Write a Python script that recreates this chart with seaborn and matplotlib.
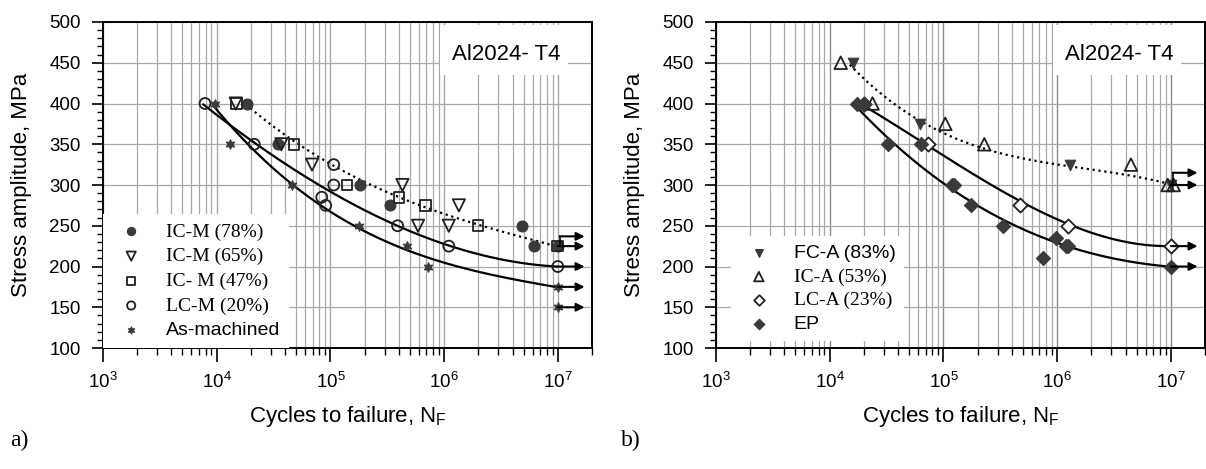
import numpy as np
import matplotlib
matplotlib.use("Agg")
import matplotlib.pyplot as plt
from matplotlib.patches import Rectangle
from matplotlib.ticker import LogLocator, MultipleLocator, NullFormatter
import seaborn as sns

# --- style ---
sns.set_theme(style="ticks")
plt.rcParams["font.family"] = ["Liberation Sans", "DejaVu Sans"]
plt.rcParams["mathtext.fontset"] = "custom"
plt.rcParams["mathtext.rm"] = "Liberation Sans"
plt.rcParams["mathtext.it"] = "Liberation Sans:italic"
plt.rcParams["mathtext.bf"] = "Liberation Sans:bold"
plt.rcParams["text.color"] = "black"
plt.rcParams["axes.labelcolor"] = "black"
plt.rcParams["xtick.color"] = "black"
plt.rcParams["ytick.color"] = "black"

SERIF = "Liberation Serif"
SANS = "Liberation Sans"
DARK = "#3a3a3a"
EDGE = "#202020"
GRID = "#a8a8a8"

# --- panel a) : machined specimens ---
icm78_N = [1.85e4, 3.45e4, 1.82e5, 3.34e5, 4.83e6, 6.15e6, 1e7]
icm78_S = [400, 350, 300, 275, 250, 225, 225]
icm65_N = [1.47e4, 3.7e4, 6.9e4, 4.3e5, 5.9e5, 1.1e6, 1.35e6]
icm65_S = [400, 350, 325, 300, 250, 250, 275]
icm47_N = [1.5e4, 4.8e4, 1.4e5, 4.0e5, 6.9e5, 1.98e6, 1e7]
icm47_S = [400, 350, 300, 285, 275, 250, 225]
lcm20_N = [7.9e3, 2.14e4, 1.07e5, 1.07e5, 8.4e4, 9.1e4, 3.9e5, 1.1e6, 1e7]
lcm20_S = [400, 350, 325, 300, 285, 275, 250, 225, 200]
asm_N = [9.6e3, 1.3e4, 4.6e4, 1.78e5, 4.7e5, 7.2e5, 1e7, 1e7]
asm_S = [400, 350, 300, 250, 225, 200, 175, 150]

# points read off the trend curves of panel a)
a_dot_N = [1.8e4, 4.9e4, 1.07e5, 2.7e5, 7e5, 2.06e6, 1e7]
a_dot_S = [400, 350, 325, 295, 275, 248, 225]
a_up_N = [7.6e3, 2.1e4, 5.97e4, 1.16e5, 3.92e5, 1.12e6, 1e7]
a_up_S = [400, 350, 312, 288, 249, 225, 200]
a_low_N = [9.3e3, 1.54e4, 3.06e4, 5.97e4, 1.75e5, 4.52e5, 1.24e6, 1e7]
a_low_S = [400, 361, 318, 291, 249, 223, 198, 175]

a_runout_bent = [225]
a_runout = [225, 200, 175, 150]

# --- panel b) : as-received / EP specimens ---
fca_N = [1.59e4, 6.28e4, 1.3e6, 1e7]
fca_S = [450, 375, 325, 300]
ica_N = [1.25e4, 2.38e4, 1.04e5, 2.29e5, 4.46e6, 9.4e6, 1.06e7]
ica_S = [450, 400, 375, 350, 325, 300, 300]
lca_N = [2.0e4, 7.25e4, 4.73e5, 1.25e6, 1e7]
lca_S = [400, 350, 275, 250, 225]
ep_N = [1.73e4, 2.0e4, 3.23e4, 6.4e4, 1.2e5, 1.25e5, 1.76e5, 3.36e5, 7.5e5, 9.8e5, 1.2e6, 1.26e6, 1e7]
ep_S = [400, 400, 350, 350, 300, 300, 275, 250, 210, 235, 225, 225, 200]

b_dot_N = [1.5e4, 6.28e4, 2.1e5, 1.3e6, 1e7]
b_dot_S = [448, 377, 348, 322, 301]
b_up_N = [1.95e4, 6.28e4, 2.07e5, 4.65e5, 1.25e6, 1e7]
b_up_S = [398, 354, 310, 279, 253, 225]
b_low_N = [1.73e4, 3.2e4, 1.2e5, 2.07e5, 4.65e5, 1.25e6, 1e7]
b_low_S = [400, 350, 300, 275, 245, 224, 200]

b_runout_bent = [300]
b_runout = [300, 225, 200]


def trend(N, S, deg=3):
    # smooth trend through the points
    x = np.log10(N)
    c = np.polyfit(x, S, deg)
    xx = np.linspace(x[0], x[-1], 200)
    return 10 ** xx, np.polyval(c, xx)


def draw_curve(ax, N, S, ls):
    xx, yy = trend(N, S)
    sns.lineplot(x=xx, y=yy, ax=ax, color="black", lw=1.6, ls=ls, sort=False, zorder=2)


def draw_runouts(ax, bent, straight, rise):
    arrow = dict(arrowstyle="-|>", color="black", lw=1.5, mutation_scale=12,
                 shrinkA=0, shrinkB=0)
    for v in straight:
        ax.annotate("", xy=(1.72e7, v), xytext=(1e7, v), arrowprops=arrow, zorder=4)
    for v in bent:
        ax.plot([1.04e7, 1.04e7], [v, v + rise], color="black", lw=1.2, zorder=4)
        ax.annotate("", xy=(1.72e7, v + rise), xytext=(1.04e7, v + rise),
                    arrowprops=arrow, zorder=4)


def pts(ax, N, S, marker, label, filled, s=55, face=None):
    fc = DARK if filled else (face or "none")
    sns.scatterplot(x=N, y=S, ax=ax, marker=marker, s=s, color=DARK,
                    facecolor=fc, edgecolor=DARK if filled else EDGE,
                    linewidth=0.8 if filled else 1.3, label=label, zorder=3)


def style_axis(ax, major_grid=GRID):
    ax.set_xscale("log")
    ax.set_xlim(1e3, 2e7)
    ax.set_ylim(100, 500)
    ax.xaxis.set_major_locator(LogLocator(base=10, numticks=10))
    ax.xaxis.set_minor_locator(LogLocator(base=10, subs=np.arange(2, 10), numticks=30))
    ax.xaxis.set_minor_formatter(NullFormatter())
    ax.yaxis.set_major_locator(MultipleLocator(50))
    ax.yaxis.set_minor_locator(MultipleLocator(10))
    ax.set_axisbelow(True)
    ax.grid(which="major", axis="y", color=GRID, lw=0.9)
    ax.grid(which="major", axis="x", color=major_grid, lw=1.0)
    ax.grid(which="minor", axis="x", color=GRID, lw=0.9)
    for sp in ax.spines.values():
        sp.set_visible(True)
        sp.set_color("black")
        sp.set_linewidth(1.4)
    ax.tick_params(axis="y", which="major", direction="out", length=8, width=1.2,
                   pad=8, labelsize=13.5, left=True, right=False)
    ax.tick_params(axis="y", which="minor", direction="out", length=4, width=1.0,
                   left=True, right=False)
    ax.tick_params(axis="x", which="major", direction="out", length=10, width=1.2,
                   pad=7, labelsize=13.5, bottom=True, top=False)
    ax.tick_params(axis="x", which="minor", direction="out", length=5, width=1.0,
                   bottom=True, top=False)
    ax.set_ylabel("Stress amplitude, MPa", fontsize=16)
    ax.yaxis.set_label_coords(-0.145, 0.5)
    ax.set_xlabel(r"Cycles to failure, N$_{\mathrm{F}}$", fontsize=16)
    ax.xaxis.set_label_coords(0.5, -0.172)
    ax.add_patch(Rectangle((0.69, 0.837), 0.26, 0.153, transform=ax.transAxes,
                           facecolor="white", edgecolor="none", zorder=1))
    ax.text(0.935, 0.899, "Al2024- T4", transform=ax.transAxes, ha="right",
            va="center", fontsize=16, zorder=4)


def make_legend(ax, anchor, fonts, spacing):
    leg = ax.legend(loc="lower left", bbox_to_anchor=anchor, borderaxespad=0,
                    frameon=True, fancybox=False, framealpha=1, edgecolor="none",
                    facecolor="white", fontsize=14, labelspacing=spacing,
                    handletextpad=0.8, borderpad=0.45, markerscale=0.75)
    for t, f in zip(leg.get_texts(), fonts):
        t.set_family(f)
    leg.set_zorder(5)


fig, (ax_a, ax_b) = plt.subplots(1, 2, figsize=(12.06, 4.69), dpi=100)
ax_a.set_position([103 / 1206, 121 / 469, 489 / 1206, 326 / 469])
ax_b.set_position([716 / 1206, 121 / 469, 489 / 1206, 326 / 469])

# panel a)
pts(ax_a, icm78_N, icm78_S, "o", "IC-M (78%)", True, s=62)
pts(ax_a, icm65_N, icm65_S, "v", "IC-M (65%)", False, s=78)
pts(ax_a, icm47_N, icm47_S, "s", "IC- M (47%)", False, s=58)
pts(ax_a, lcm20_N, lcm20_S, "o", "LC-M (20%)", False, s=62)
pts(ax_a, asm_N, asm_S, (6, 1, 0), "As-machined", True, s=48)
draw_curve(ax_a, a_dot_N, a_dot_S, ":")
draw_curve(ax_a, a_up_N, a_up_S, "-")
draw_curve(ax_a, a_low_N, a_low_S, "-")
draw_runouts(ax_a, a_runout_bent, a_runout, 12)
style_axis(ax_a)
make_legend(ax_a, (0.0, 0.0), [SERIF, SERIF, SERIF, SERIF, SANS], 0.36)

# panel b)
pts(ax_b, fca_N, fca_S, "v", "FC-A (83%)", True, s=58)
pts(ax_b, ica_N, ica_S, "^", "IC-A (53%)", False, s=82)
pts(ax_b, lca_N, lca_S, "D", "LC-A (23%)", False, s=52, face="white")
pts(ax_b, ep_N, ep_S, "D", "EP", True, s=52)
draw_curve(ax_b, b_dot_N, b_dot_S, ":")
draw_curve(ax_b, b_up_N, b_up_S, "-")
draw_curve(ax_b, b_low_N, b_low_S, "-")
draw_runouts(ax_b, b_runout_bent, b_runout, 15)
style_axis(ax_b, major_grid="#8a8a8a")
make_legend(ax_b, (0.03, 0.02), [SANS, SERIF, SERIF, SANS], 0.3)

fig.text(10 / 1206, 1 - 440 / 469, "a)", fontsize=17, family=SERIF, va="center")
fig.text(621 / 1206, 1 - 440 / 469, "b)", fontsize=17, family=SERIF, va="center")

fig.savefig("out.png", dpi=100)
plt.close()
